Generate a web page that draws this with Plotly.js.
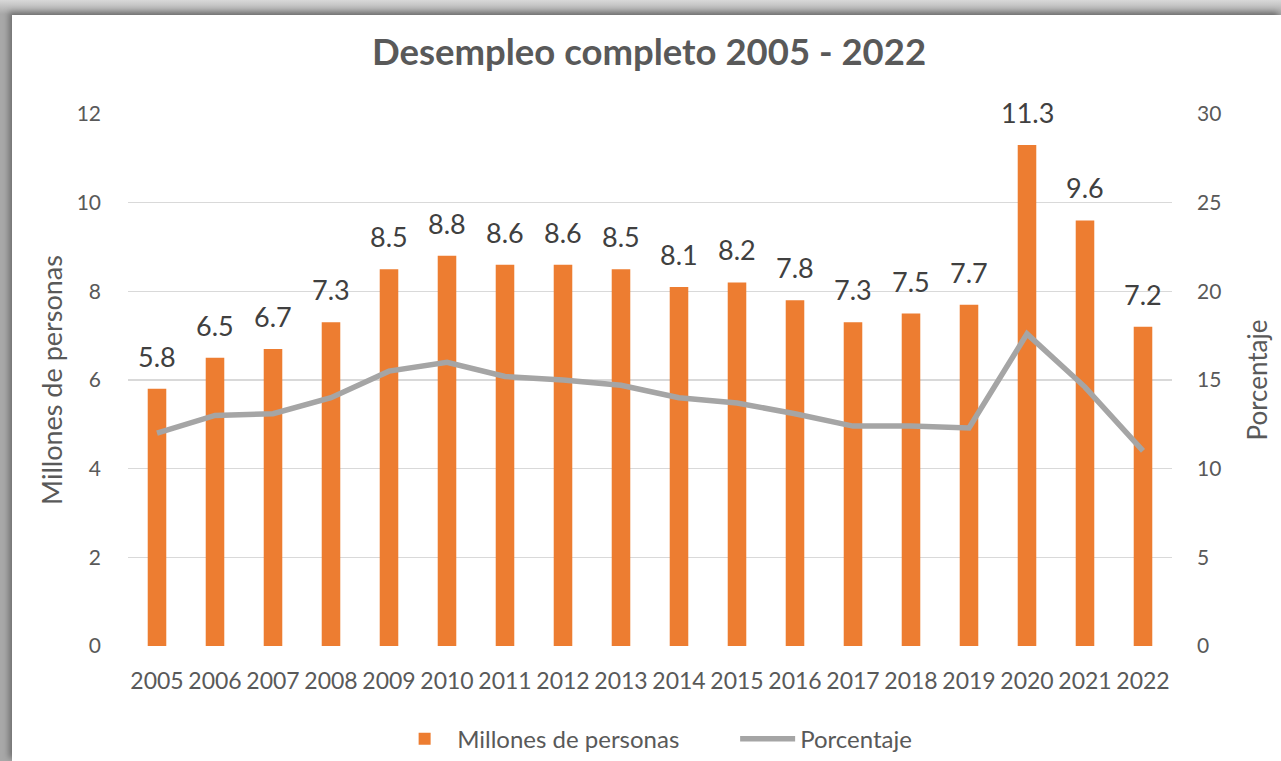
<!DOCTYPE html>
<html>
<head>
<meta charset="utf-8">
<script src="https://cdn.plot.ly/plotly-3.0.1.min.js"></script>
<style>
  html, body { margin: 0; padding: 0; width: 1281px; height: 761px; overflow: hidden;
    background: linear-gradient(#d8d8d8, #a8a8a8 14px); }
  #frame { position: absolute; left: 12px; top: 15px; width: 1269px; height: 746px; background: #fff;
    box-shadow: -3px -3px 6px rgba(0,0,0,0.35); }
  #chart { width: 1269px; height: 746px; }
</style>
</head>
<body>
<div id="frame"><div id="chart"></div></div>
<script>
const years = ['2005','2006','2007','2008','2009','2010','2011','2012','2013','2014','2015','2016','2017','2018','2019','2020','2021','2022'];
const millones = [5.8, 6.5, 6.7, 7.3, 8.5, 8.8, 8.6, 8.6, 8.5, 8.1, 8.2, 7.8, 7.3, 7.5, 7.7, 11.3, 9.6, 7.2];
const porcentaje = [12.0, 13.0, 13.1, 14.0, 15.5, 16.0, 15.2, 15.0, 14.7, 14.0, 13.7, 13.1, 12.4, 12.4, 12.3, 17.6, 14.6, 11.0];
const leftTicks = [0, 2, 4, 6, 8, 10, 12];
const rightTicks = [0, 5, 10, 15, 20, 25, 30];

const FONT = 'Lato, "Open Sans", sans-serif';
const GRAY = '#595959';

const bars = {
  type: 'bar', x: years, y: millones, name: 'Millones de personas',
  marker: { color: '#ED7D31' }
};
const line = {
  type: 'scatter', mode: 'lines', x: years, y: porcentaje, yaxis: 'y2', name: 'Porcentaje',
  line: { color: '#A5A5A5', width: 5.5 }
};

const labels = years.map((yr, i) => ({
  x: i, y: millones[i], xref: 'x', yref: 'y', text: millones[i].toFixed(1),
  showarrow: false, yanchor: 'bottom', yshift: 14,
  font: { family: FONT, size: 27, color: '#404040' }
}));

const layout = {
  width: 1269, height: 746,
  margin: { l: 116, r: 109, t: 99, b: 115, autoexpand: false },
  paper_bgcolor: '#ffffff', plot_bgcolor: '#ffffff',
  font: { family: FONT, color: GRAY },
  title: { text: '<b>Desempleo completo 2005 - 2022</b>', x: 0.502, xanchor: 'center', y: 0.95, yanchor: 'middle',
    font: { family: FONT, size: 36.5, color: GRAY } },
  bargap: 0.68,
  showlegend: true,
  legend: { orientation: 'h', x: 0.253, xanchor: 'left', y: -0.175, yanchor: 'middle',
    font: { family: FONT, size: 24, color: GRAY }, itemwidth: 55, entrywidth: 273, traceorder: 'normal' },
  xaxis: { type: 'category', range: [-0.5, 17.5], automargin: false, tickfont: { family: FONT, size: 23, color: GRAY }, ticks: '', showline: false,
    showgrid: false, ticklabelstandoff: 19 },
  yaxis: { range: [0, 12], automargin: false, tickvals: leftTicks, tickfont: { family: FONT, size: 21, color: GRAY },
    gridcolor: '#d9d9d9', gridwidth: 1.5, zeroline: false, ticks: '', ticklabelstandoff: 26,
    title: { text: 'Millones de personas', font: { family: FONT, size: 27, color: GRAY }, standoff: 6 } },
  yaxis2: { range: [0, 30], automargin: false, tickvals: rightTicks, overlaying: 'y', side: 'right', showgrid: false, zeroline: false,
    tickfont: { family: FONT, size: 21, color: GRAY }, ticks: '', ticklabelstandoff: 24,
    title: { text: 'Porcentaje', font: { family: FONT, size: 26, color: GRAY }, standoff: 28 } },
  annotations: labels
};

Plotly.newPlot('chart', [bars, line], layout, { displayModeBar: false, staticPlot: true });
</script>
</body>
</html>
